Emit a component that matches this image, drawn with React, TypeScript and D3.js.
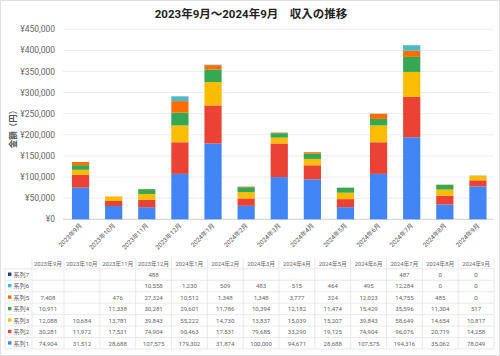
import React from "react";
import * as d3 from "d3";

const categories = ["2023年9月","2023年10月","2023年11月","2023年12月","2024年1月","2024年2月","2024年3月","2024年4月","2024年5月","2024年6月","2024年7月","2024年8月","2024年9月"];
const seriesNames = ["系列1","系列2","系列3","系列4","系列5","系列6","系列7"];
const s1 = [74904,31512,28688,107575,179302,31874,100000,94671,28688,107575,194316,35062,78049];
const s2 = [30281,11972,17531,74904,90463,17531,79685,33290,19125,74904,96076,20719,14258];
const s3 = [12088,10684,13781,39843,55222,14730,13837,15039,15207,39843,58649,14654,10817];
const s4 = [10911,null,11338,30281,29601,11786,10394,12182,11474,15429,35596,11304,517];
const s5 = [7408,null,476,27324,10512,1348,1348,3777,324,12023,14755,485,0];
const s6 = [null,null,null,10558,1230,509,483,515,464,495,12284,0,0];
const s7 = [null,null,null,488,null,null,null,null,null,null,487,0,0];
const seriesValues: (number | null)[][] = [s1, s2, s3, s4, s5, s6, s7];
const colors = ["#4285F4","#EA4335","#FBBC04","#34A853","#FF6D01","#46BDC6","#1A3C8F"];
const yTicks = [0,50000,100000,150000,200000,250000,300000,350000,400000,450000];
const title = "2023年9月～2024年9月　収入の推移";
const yTitle = "金額（円）";

const W = 500, H = 356;
const FONT = "Roboto, 'Noto Sans CJK JP', sans-serif";

export default function App() {
  const x = d3.scaleBand<string>().domain(categories).range([64, 494.5]).paddingInner(0.48).paddingOuter(0.24);
  const y = d3.scaleLinear().domain([0, 450000]).range([219.3, 29.3]);

  const rows = categories.map((c, i) => {
    const r: any = { cat: c };
    seriesNames.forEach((s, j) => { r[s] = seriesValues[j][i] ?? 0; });
    return r;
  });
  const stacked = d3.stack<any>().keys(seriesNames)(rows);
  const fmt = d3.format(",");

  // table
  const tableLeft = 5, headCol = 32, firstColEnd = 64, tableRight = 494;
  const colW = (tableRight - firstColEnd) / (categories.length - 1);
  const colLeft = (i: number) => (i === 0 ? headCol : firstColEnd + colW * (i - 1));
  const colRight = (i: number) => (i === 0 ? firstColEnd : firstColEnd + colW * i);
  const colCenter = (i: number) => (colLeft(i) + colRight(i)) / 2;
  const headTop = 258, headBottom = 268.8, rowH = 11.45;
  const rowOrder = [6,5,4,3,2,1,0];
  const tableBottom = headBottom + rowH * rowOrder.length;

  return (
    <svg width={W} height={H} style={{ position: "absolute", left: 0, top: 0 }} fontFamily={FONT}>
      <rect x={0.5} y={0.5} width={W - 1} height={H - 1} fill="#fff" stroke="#e0e0e0" />
      <text x={251} y={18} textAnchor="middle" fontSize={11.5} fontWeight="bold" fill="#222">{title}</text>
      {yTicks.map(t => (
        <g key={t}>
          <line x1={63} x2={493} y1={y(t)} y2={y(t)} stroke={t === 0 ? "#cfcfcf" : "#ececec"} strokeWidth={1} />
          <text x={55} y={y(t) + 3} textAnchor="end" fontSize={8.5} fill="#666">{"¥" + fmt(t)}</text>
        </g>
      ))}
      <text transform={`translate(16,127) rotate(-90)`} textAnchor="middle" fontSize={8.5} fontWeight="bold" fill="#555">{yTitle}</text>
      {stacked.map((layer, j) => (
        <g key={layer.key} fill={colors[j]}>
          {layer.map((d, i) => (
            d[1] - d[0] > 0 ? (
              <rect key={i} x={x(categories[i])} width={x.bandwidth()} y={y(d[1])} height={y(d[0]) - y(d[1])} />
            ) : null
          ))}
        </g>
      ))}
      {categories.map(c => {
        const cx = (x(c) as number) + x.bandwidth() / 2 + 2;
        return (
          <text key={c} transform={`translate(${cx},226) rotate(-45)`} textAnchor="end" fontSize={6.3} fill="#555">{c}</text>
        );
      })}
      {/* table */}
      <g fill="#666">
        {categories.map((c, i) => (
          <text key={c} x={colCenter(i)} y={headBottom - 3.2} textAnchor="middle" fontSize={5.8}>{c}</text>
        ))}
        {rowOrder.map((j, r) => {
          const yc = headBottom + rowH * r + rowH / 2;
          return (
            <g key={j} fontSize={6.1}>
              <rect x={8} y={yc - 2} width={3.4} height={3.4} fill={colors[j]} />
              <text x={13.5} y={yc + 2.3} fill="#555">{seriesNames[j]}</text>
              {seriesValues[j].map((v, i) => v === null ? null : (
                <text key={i} x={colCenter(i)} y={yc + 2.3} textAnchor="middle">{fmt(v)}</text>
              ))}
            </g>
          );
        })}
      </g>
      <g stroke="#e3e3e3" strokeWidth={0.8}>
        {d3.range(rowOrder.length + 1).map(r => (
          <line key={"h" + r} x1={tableLeft} x2={tableRight} y1={headBottom + rowH * r} y2={headBottom + rowH * r} />
        ))}
        <line x1={tableLeft} x2={tableLeft} y1={headBottom} y2={tableBottom} />
        {d3.range(categories.length + 1).map(i => {
          const lx = i === 0 ? headCol : colRight(i - 1);
          return <line key={"v" + i} x1={lx} x2={lx} y1={headTop} y2={tableBottom} />;
        })}
      </g>
    </svg>
  );
}
